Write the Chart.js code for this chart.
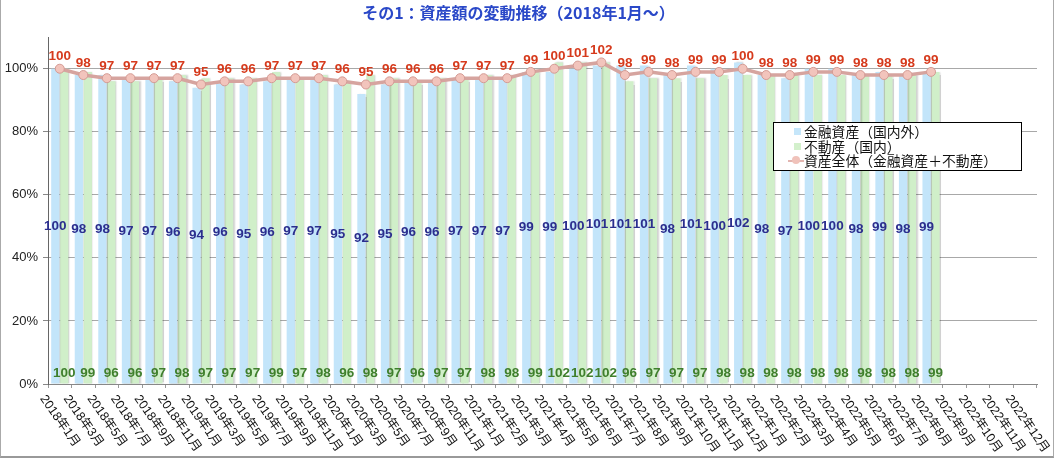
<!DOCTYPE html>
<html>
<head>
<meta charset="utf-8">
<script src="https://cdn.jsdelivr.net/npm/chart.js@4.4.1/dist/chart.umd.min.js"></script>
<style>
  html, body { margin:0; padding:0; background:#fff; }
  #wrap { position:relative; width:1054px; height:459px; overflow:hidden; }
  #frame { position:absolute; left:0; top:0; width:1052px; height:456px; border-left:1px solid #aaa; border-right:1px solid #aaa; border-bottom:2px solid #999; pointer-events:none; }
  #legend { position:absolute; left:773px; top:122px; width:247px; height:46px; border:1px solid #000; background:#fff;
            font-family:"Noto Sans CJK JP", sans-serif; font-size:13.8px; line-height:14.5px; color:#111; padding-top:1px; box-sizing:content-box; }
  #legend .row { position:relative; height:14.5px; padding-left:30px; white-space:nowrap; }
  #legend .sq { position:absolute; left:20px; top:4px; width:7px; height:7px; }
  #legend .ln { position:absolute; left:14px; top:7px; width:16px; height:2px; background:#e2b5b0; }
  #legend .dot { position:absolute; left:18px; top:3px; width:8px; height:8px; border-radius:50%; background:#f0c2ba; border:0; }
</style>
</head>
<body>
<div id="wrap">
  <canvas id="c" width="1054" height="459"></canvas>
  <div id="legend">
    <div class="row"><span class="sq" style="background:#c5e6fa"></span>金融資産（国内外）</div>
    <div class="row"><span class="sq" style="background:#d3f0cc"></span>不動産（国内）</div>
    <div class="row"><span class="ln"></span><span class="dot"></span>資産全体（金融資産＋不動産）</div>
  </div>
  <div id="frame"></div>
</div>
<script>
const categories = [
  "2018年1月","2018年3月","2018年5月","2018年7月","2018年9月","2018年11月",
  "2019年1月","2019年3月","2019年5月","2019年7月","2019年9月","2019年11月",
  "2020年1月","2020年3月","2020年5月","2020年7月","2020年9月","2020年11月",
  "2021年1月","2021年2月","2021年3月","2021年4月","2021年5月","2021年6月",
  "2021年7月","2021年8月","2021年9月","2021年10月","2021年11月","2021年12月",
  "2022年1月","2022年2月","2022年3月","2022年4月","2022年5月","2022年6月",
  "2022年7月","2022年8月","2022年9月","2022年10月","2022年11月","2022年12月"
];
const financial = [100,98,98,97,97,96,94,96,95,96,97,97,95,92,95,96,96,97,97,97,99,99,100,101,101,101,98,101,100,102,98,97,100,100,98,99,98,99];
const realEstate = [100,99,96,96,97,98,97,97,97,99,97,98,96,98,97,96,97,97,98,98,99,102,102,102,96,97,97,97,98,98,98,98,98,98,98,98,98,99];
const total = [100,98,97,97,97,97,95,96,96,97,97,97,96,95,96,96,96,97,97,97,99,100,101,102,98,99,98,99,99,100,98,98,99,99,98,98,98,99];
const yTicks = [0,20,40,60,80,100];
const seriesNames = ["金融資産（国内外）","不動産（国内）","資産全体（金融資産＋不動産）"];

const labelPlugin = {
  id: 'labels',
  beforeDatasetDraw(chart, args) {
    if (args.meta.type === 'bar') {
      const ctx = chart.ctx;
      ctx.save();
      ctx.shadowColor = 'rgba(0,0,0,0.18)';
      ctx.shadowOffsetX = 1.5;
      ctx.shadowOffsetY = 0;
      ctx.shadowBlur = 1.5;
    }
  },
  afterDatasetDraw(chart, args) {
    if (args.meta.type === 'bar') chart.ctx.restore();
  },
  afterDatasetsDraw(chart) {
    const ctx = chart.ctx;
    ctx.save();
    ctx.textAlign = 'center';
    ctx.textBaseline = 'middle';
    const m0 = chart.getDatasetMeta(0);
    ctx.font = 'bold 13.5px "Liberation Sans", Arial, sans-serif';
    ctx.fillStyle = '#2b2e8e';
    m0.data.forEach((el, i) => {
      ctx.fillText(String(financial[i]), el.x, (el.y + el.base) / 2);
    });
    const m1 = chart.getDatasetMeta(1);
    ctx.fillStyle = '#3f7f2c';
    m1.data.forEach((el, i) => {
      ctx.fillText(String(realEstate[i]), el.x, el.base - 10);
    });
    const m2 = chart.getDatasetMeta(2);
    ctx.fillStyle = '#d63a1c';
    m2.data.forEach((el, i) => {
      ctx.fillText(String(total[i]), el.x, el.y - 12);
    });
    ctx.restore();
  },
  afterDraw(chart) {
    const ctx = chart.ctx;
    const xs = chart.scales.x;
    const bottom = chart.chartArea.bottom;
    ctx.save();
    ctx.font = '12.5px "Liberation Sans", "Noto Sans CJK JP", sans-serif';
    ctx.fillStyle = '#111';
    ctx.textAlign = 'left';
    ctx.textBaseline = 'top';
    categories.forEach((lab, i) => {
      const x = xs.getPixelForValue(i);
      ctx.save();
      ctx.translate(x - 12, bottom + 9);
      ctx.rotate(55 * Math.PI / 180);
      ctx.fillText(lab, 0, 0);
      ctx.restore();
    });
    ctx.restore();
  }
};

new Chart(document.getElementById('c'), {
  type: 'bar',
  data: {
    labels: categories,
    datasets: [
      { label: seriesNames[0], data: financial, backgroundColor: '#c3e5fa', borderWidth: 0,
        categoryPercentage: 0.76, barPercentage: 0.92 },
      { label: seriesNames[1], data: realEstate, backgroundColor: '#d0efc9', borderWidth: 0,
        categoryPercentage: 0.76, barPercentage: 0.92 },
      { type: 'line', label: seriesNames[2], data: total, order: -1,
        borderColor: '#d6a49f', borderWidth: 3.5, tension: 0,
        pointRadius: 4.5, pointBackgroundColor: '#f2c4bc', pointBorderColor: '#d49b94', pointBorderWidth: 1 }
    ]
  },
  options: {
    responsive: false,
    animation: false,
    devicePixelRatio: 1,
    layout: { padding: { left: 0, right: 17, top: 0, bottom: 0 } },
    plugins: {
      legend: { display: false },
      tooltip: { enabled: false },
      title: {
        display: true,
        text: 'その1：資産額の変動推移（2018年1月〜）',
        color: '#2a48c8',
        font: { family: '"Noto Sans CJK JP", sans-serif', size: 16, weight: 'bold', lineHeight: 1.2 },
        padding: { top: 3, bottom: 15 }
      }
    },
    scales: {
      x: {
        offset: true,
        grid: { display: true, offset: true, drawOnChartArea: false, drawTicks: true, tickLength: 4, color: '#999' },
        border: { display: true, color: '#888', width: 1 },
        ticks: { display: false },
        afterFit(scale) { scale.height = 75; }
      },
      y: {
        min: 0, max: 110,
        afterBuildTicks(scale) { scale.ticks = yTicks.map(v => ({ value: v })); },
        ticks: {
          stepSize: 20,
          callback: v => v + '%',
          color: '#222',
          padding: 5,
          font: { family: '"Liberation Sans", Arial, sans-serif', size: 13 }
        },
        grid: { color: '#a8a8a8', lineWidth: 1, drawTicks: true, tickLength: 5, tickColor: '#888' },
        border: { display: true, color: '#666', width: 1 },
        afterFit(scale) { scale.width = 48; }
      }
    }
  },
  plugins: [labelPlugin]
});
</script>
</body>
</html>
